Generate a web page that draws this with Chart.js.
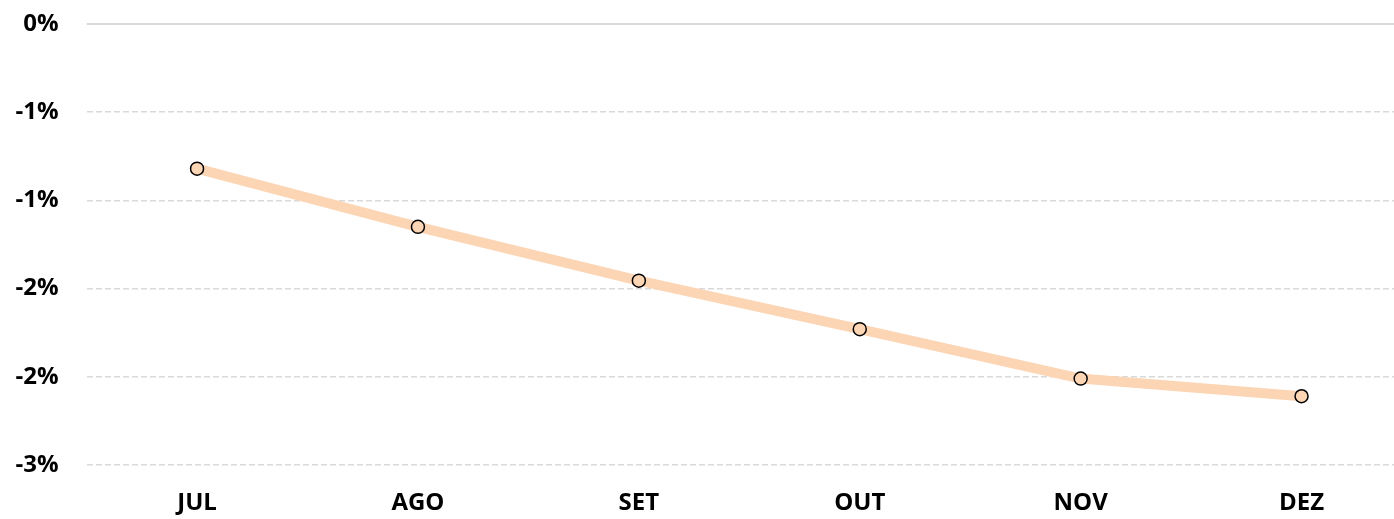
<!DOCTYPE html>
<html>
<head>
<meta charset="utf-8">
<script src="https://cdn.jsdelivr.net/npm/chart.js@4/dist/chart.umd.min.js"></script>
<style>
  html, body { margin: 0; padding: 0; background: #fff; overflow: hidden; }
  canvas { display: block; }
</style>
</head>
<body>
<canvas id="lineChart" width="1420" height="519" style="width:1420px;height:519px"></canvas>
<script>
const months = ["JUL", "AGO", "SET", "OUT", "NOV", "DEZ"];
const values = [-0.82, -1.15, -1.455, -1.73, -2.01, -2.11];
const yTicks = [0, -0.5, -1, -1.5, -2, -2.5];

const lineColor = '#FCD5B5';
const gridColor = '#d9d9d9';
const labelFont = { family: 'Open Sans', size: 24, weight: 'bold' };

// Excel style rounding for the percent labels (away from zero)
function pctLabel(v) {
    const r = Math.sign(v) * Math.round(Math.abs(v));
    return (r === 0 ? 0 : r) + '%';
}

// solid line at zero, the rest of the grid is dashed
const zeroLine = {
    id: 'zeroLine',
    beforeDatasetsDraw(chart) {
        const ctx = chart.ctx;
        const y = chart.scales.y.getPixelForValue(0);
        ctx.save();
        ctx.strokeStyle = gridColor;
        ctx.lineWidth = 2;
        ctx.beginPath();
        ctx.moveTo(chart.chartArea.left, y);
        ctx.lineTo(chart.chartArea.right, y);
        ctx.stroke();
        ctx.restore();
    }
};

new Chart(document.getElementById('lineChart'), {
    type: 'line',
    data: {
        labels: months,
        datasets: [{
            data: values,
            borderColor: lineColor,
            borderWidth: 10,
            pointRadius: 6.5,
            pointBackgroundColor: lineColor,
            pointBorderColor: '#000',
            pointBorderWidth: 1.5,
            tension: 0
        }]
    },
    options: {
        responsive: false,
        animation: false,
        layout: { padding: { top: 24, right: 0, left: 0, bottom: 0 } },
        plugins: {
            legend: { display: false },
            tooltip: { enabled: false }
        },
        scales: {
            x: {
                offset: true,
                grid: { display: false, drawTicks: false },
                border: { display: false },
                ticks: { color: '#000', font: labelFont, padding: 24 },
                afterFit(scale) {
                    scale.height = 54;
                    scale.paddingLeft = 0;
                    scale.paddingRight = 0;
                }
            },
            y: {
                min: -2.5,
                max: 0,
                afterBuildTicks(scale) {
                    scale.ticks = yTicks.map(v => ({ value: v }));
                },
                grid: {
                    drawTicks: false,
                    lineWidth: 1.5,
                    color: ctx => ctx.tick && ctx.tick.value === 0 ? 'rgba(0,0,0,0)' : gridColor
                },
                border: { display: false, dash: [6, 3] },
                ticks: {
                    color: '#000',
                    font: labelFont,
                    padding: 28,
                    callback: v => pctLabel(v)
                },
                afterFit(scale) {
                    scale.width = 86.6;
                    scale.paddingTop = 0;
                    scale.paddingBottom = 0;
                }
            }
        }
    },
    plugins: [zeroLine]
});
</script>
</body>
</html>
